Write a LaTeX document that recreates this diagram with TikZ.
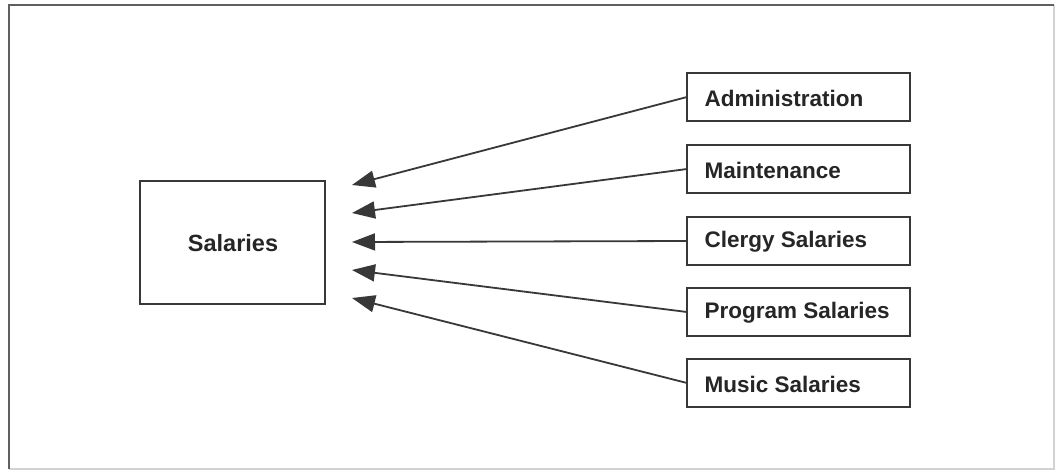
\documentclass[tikz,border=0pt]{standalone}
\usepackage{fontspec}
\setmainfont{Liberation Sans}
\usetikzlibrary{arrows.meta}
\definecolor{linegray}{gray}{0.22}
\begin{document}
\begin{tikzpicture}[x=1pt,y=-1pt,
  box/.style={draw=linegray,line width=2pt,minimum width=223pt,minimum height=48pt,anchor=north west,inner sep=0pt,outer sep=0pt},
  lbl/.style={font=\bfseries\fontsize{22.5}{26}\selectfont,text=black!85,anchor=west},
  conn/.style={draw=linegray,line width=1.8pt,-{Triangle[length=23pt,width=17pt]}}]
\useasboundingbox (0,0) rectangle (1055,471);
\fill[white] (0,0) rectangle (1055,471);
\draw[gray!35,line width=2pt] (1054,5) -- (1054,469) -- (9,469);
\draw[gray!75!black,line width=2.5pt] (9,469) -- (9,5) -- (1054,5);
% main box
\node[box,minimum width=185pt,minimum height=123pt] (sal) at (140,181) {};
\node[font=\bfseries\fontsize{23.5}{27}\selectfont,text=black!85] (saltxt) at (233,243) {Salaries};
% right boxes
\node[box] (adm) at (687,73) {};
\node[box] (mnt) at (687,145) {};
\node[box] (clg) at (687,217) {};
\node[box] (prg) at (687,288) {};
\node[box] (mus) at (687,359) {};
\node[lbl] at (701,98) {Administration};
\node[lbl] at (701,170) {Maintenance};
\node[lbl] at (701,242) {Clergy Salaries};
\node[lbl] at (701,313) {Program Salaries};
\node[lbl] at (701,384) {Music Salaries};
% arrow tips
\coordinate (t1) at (352,185);
\coordinate (t2) at (352,213);
\coordinate (t3) at (352,242);
\coordinate (t4) at (352,270);
\coordinate (t5) at (352,298);
\draw[conn] (adm.west) -- (t1);
\draw[conn] (mnt.west) -- (t2);
\draw[conn] (clg.west) -- (t3);
\draw[conn] (prg.west) -- (t4);
\draw[conn] (mus.west) -- (t5);
\end{tikzpicture}
\end{document}
